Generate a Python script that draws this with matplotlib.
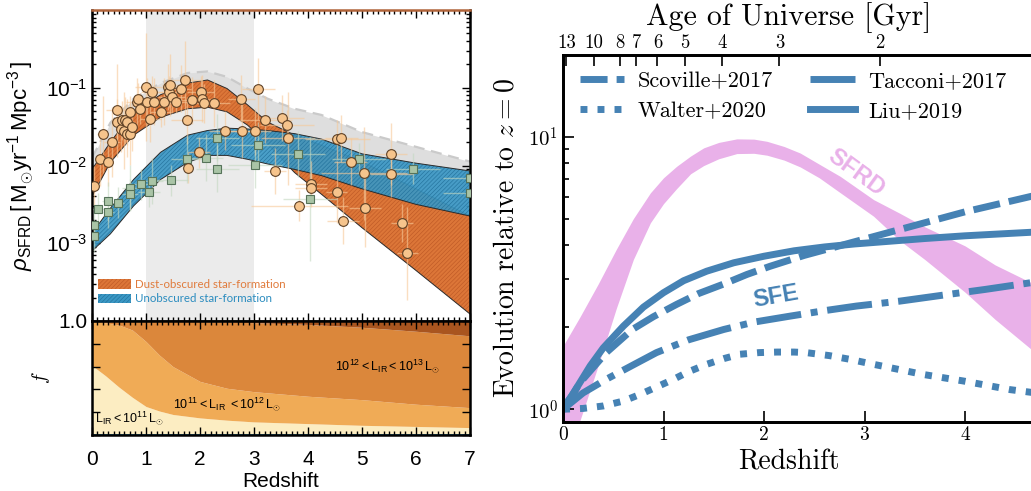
import numpy as np
import matplotlib
matplotlib.use("Agg")
import matplotlib.pyplot as plt
from matplotlib.patches import Patch
from matplotlib.ticker import LogLocator, MultipleLocator, NullFormatter

plt.rcParams['font.family'] = 'Liberation Sans'
plt.rcParams['mathtext.fontset'] = 'custom'
plt.rcParams['mathtext.rm'] = 'Liberation Sans'
plt.rcParams['mathtext.it'] = 'Liberation Sans:italic'
plt.rcParams['mathtext.bf'] = 'Liberation Sans:bold'
plt.rcParams['axes.formatter.use_mathtext'] = True
plt.rcParams['hatch.linewidth'] = 0.45

# ---------------- left panel: cosmic SFRD (log10 values) ----------------
band_z = [0, 0.34, 0.77, 1.27, 1.77, 2.14, 2.5, 2.88, 3.25, 3.75, 4.25, 5.0, 6.0, 7.0]
total_hi = [-1.90, -1.45, -1.14, -0.94, -0.81, -0.79, -0.86, -1.01, -1.14, -1.27, -1.35, -1.57, -1.76, -1.95]
total_lo = [-2.30, -1.90, -1.55, -1.32, -1.20, -1.18, -1.24, -1.40, -1.60, -1.80, -1.95, -2.10, -2.35, -2.60]
dust_hi = [-2.05, -1.70, -1.31, -1.09, -0.94, -0.90, -1.01, -1.22, -1.44, -1.61, -1.74, -1.95, -2.30, -2.65]
dust_lo = [-2.40, -1.96, -1.61, -1.38, -1.27, -1.25, -1.31, -1.48, -1.72, -2.09, -2.37, -2.80, -3.35, -3.91]
uv_hi = [-2.87, -2.55, -2.18, -1.83, -1.61, -1.55, -1.52, -1.53, -1.55, -1.59, -1.66, -1.85, -1.97, -2.07]
uv_lo = [-3.10, -2.88, -2.52, -2.18, -1.96, -1.87, -1.87, -1.92, -1.98, -2.05, -2.13, -2.30, -2.50, -2.65]

# dust-obscured measurements: redshift, log10 SFRD, error (dex), redshift error
ir_z = [0.04, 0.15, 0.20, 0.29, 0.37, 0.46, 0.47, 0.53, 0.55, 0.60, 0.61, 0.65, 0.65,
        0.71, 0.71, 0.74, 0.83, 0.86, 0.89, 1.00, 1.02, 1.08, 1.11, 1.15, 1.27, 1.33,
        1.40, 1.42, 1.45, 1.48, 1.55, 1.64, 1.73, 1.76, 1.77, 1.86, 1.98, 2.01, 2.04,
        2.07, 2.26, 2.46, 2.76, 2.77, 3.02, 3.08, 3.21, 3.39, 3.52, 3.61, 3.63, 3.84,
        4.05, 4.06, 4.53, 4.54, 4.62, 4.65, 4.79, 5.04, 5.05, 5.54, 5.54, 5.74, 5.84]
ir_lg = [-2.26, -1.92, -1.60, -1.96, -1.70, -1.29, -1.44, -1.53, -1.42, -1.55, -1.42, -1.44, -1.59,
         -1.31, -1.59, -1.51, -1.18, -1.14, -1.27, -0.99, -1.18, -1.40, -1.05, -1.18, -1.31, -1.18,
         -0.99, -1.05, -0.96, -1.12, -1.18, -1.01, -0.90, -1.42, -2.03, -1.16, -1.83, -1.05, -1.14,
         -1.20, -1.20, -1.55, -1.14, -1.55, -1.56, -1.02, -1.41, -2.07, -1.39, -1.48, -1.65, -2.52,
         -2.24, -2.29, -2.34, -1.66, -1.65, -2.71, -1.95, -2.10, -2.55, -1.85, -2.11, -2.74, -3.13]
ir_dy = [0.25, 0.35, 0.5, 0.3, 0.45, 0.6, 0.3, 0.3, 0.25, 0.5, 0.3, 0.3, 0.3,
         0.2, 0.4, 0.3, 0.3, 0.2, 0.2, 0.7, 0.3, 0.3, 0.2, 0.3, 0.2, 0.3,
         0.3, 0.2, 0.4, 0.2, 0.15, 0.3, 0.5, 0.3, 0.2, 0.3, 0.2, 0.2, 0.3,
         0.25, 0.3, 0.25, 0.3, 0.35, 0.3, 0.4, 0.3, 0.3, 0.3, 0.2, 0.6, 0.2,
         0.3, 0.2, 0.4, 0.25, 0.3, 0.3, 0.3, 0.6, 0.5, 0.4, 0.3, 0.25, 0.6]
ir_dx = [0.04, 0.1, 0.1, 0.1, 0.15, 0.2, 0.1, 0.1, 0.1, 0.1, 0.1, 0.15, 0.1,
         0.1, 0.1, 0.1, 0.2, 0.1, 0.1, 0.2, 0.3, 0.2, 0.2, 0.1, 0.2, 0.25,
         0.2, 0.2, 0.15, 0.25, 0.25, 0.2, 0.3, 0.3, 0.1, 0.3, 0.2, 0.25, 0.2,
         0.3, 0.3, 0.3, 0.25, 0.3, 0.3, 0.3, 0.5, 0.2, 0.4, 0.5, 0.5, 0.9,
         0.3, 0.3, 0.2, 0.6, 0.3, 0.3, 0.3, 0.8, 0.3, 0.3, 0.4, 0.2, 0.2]

# unobscured (UV) measurements
uv_pz = [0.04, 0.04, 0.12, 0.29, 0.30, 0.49, 0.70, 0.71, 0.91, 1.06, 1.11, 1.47,
         1.76, 2.12, 2.32, 2.32, 3.02, 3.07, 3.82, 4.03, 4.94, 5.95, 7.0, 7.0]
uv_plg = [-2.76, -2.91, -2.56, -2.46, -2.60, -2.48, -2.29, -2.37, -2.24, -2.34, -2.20, -2.19,
          -1.92, -1.90, -2.04, -1.64, -1.99, -1.74, -1.85, -2.43, -1.91, -2.04, -2.16, -2.35]
uv_pdy = [0.2, 0.2, 0.2, 0.25, 0.2, 0.2, 0.3, 0.2, 0.2, 0.2, 0.3, 0.2,
          0.3, 0.3, 0.3, 0.3, 0.3, 0.3, 0.3, 0.8, 0.2, 0.2, 0.2, 0.2]
uv_pdx = [0.05, 0.05, 0.1, 0.1, 0.1, 0.1, 0.15, 0.15, 0.15, 0.2, 0.2, 0.3,
          0.3, 0.3, 0.4, 0.4, 0.5, 0.5, 0.5, 0.5, 0.5, 0.5, 0.5, 0.5]

# fraction of obscured SFRD by IR luminosity class (cumulative)
frac_z = [0, 0.25, 0.5, 0.75, 1.0, 1.25, 1.5, 2.0, 2.5, 3.0, 4.0, 5.0, 6.0, 7.0]
frac_lirg = [0.61, 0.52, 0.42, 0.33, 0.25, 0.21, 0.18, 0.15, 0.13, 0.115, 0.10, 0.085, 0.075, 0.065]
frac_ulirg = [0.995, 0.985, 0.965, 0.92, 0.82, 0.70, 0.60, 0.47, 0.41, 0.38, 0.34, 0.31, 0.27, 0.24]
frac_hlirg = [1.0, 1.0, 1.0, 1.0, 1.0, 0.998, 0.997, 0.995, 0.99, 0.985, 0.97, 0.945, 0.91, 0.87]

# ---------------- right panel: evolution relative to z=0 (log10) ----------------
sfrd_z = [0, 0.17, 0.35, 0.53, 0.7, 0.87, 1.0, 1.13, 1.27, 1.4, 1.55, 1.73, 1.9, 2.03,
          2.2, 2.36, 2.55, 2.76, 3.09, 3.35, 3.6, 4.0, 4.3, 4.66, 5.0]
sfrd_hi = [0.232, 0.34, 0.46, 0.587, 0.70, 0.795, 0.85, 0.892, 0.93, 0.96, 0.98, 0.993, 0.992, 0.984,
           0.965, 0.941, 0.90, 0.855, 0.77, 0.72, 0.67, 0.60, 0.53, 0.465, 0.40]
sfrd_lo = [-0.15, -0.04, 0.16, 0.37, 0.55, 0.685, 0.755, 0.81, 0.865, 0.895, 0.92, 0.939, 0.94, 0.933,
           0.915, 0.89, 0.85, 0.795, 0.709, 0.62, 0.55, 0.43, 0.33, 0.22, 0.12]

liu_z = [0, 0.05, 0.1, 0.15, 0.2, 0.27, 0.4, 0.6, 0.8, 1.0, 1.2, 1.43, 1.7, 2.0, 2.3, 2.6, 2.9,
         3.25, 3.6, 4.0, 4.66, 5.0]
liu_lg = [0, 0.03, 0.055, 0.087, 0.117, 0.159, 0.225, 0.305, 0.375, 0.428, 0.472, 0.507, 0.538,
          0.562, 0.582, 0.596, 0.607, 0.617, 0.627, 0.637, 0.65, 0.656]
scov_z = [0, 0.17, 0.43, 0.69, 0.9, 1.13, 1.35, 1.6, 1.83, 2.06, 2.4, 2.75, 3.1, 3.5, 4.0,
          4.66, 5.0]
scov_lg = [0, 0.098, 0.208, 0.293, 0.34, 0.385, 0.425, 0.46, 0.495, 0.525, 0.565, 0.60, 0.635,
           0.675, 0.725, 0.782, 0.81]
tacc_z = [0, 0.1, 0.2, 0.43, 0.7, 0.93, 1.25, 1.6, 1.9, 2.26, 2.6, 2.92, 3.35, 3.8, 4.2, 4.66, 5.0]
tacc_lg = [0, 0.03, 0.06, 0.11, 0.163, 0.208, 0.255, 0.293, 0.32, 0.342, 0.362, 0.379, 0.397,
           0.42, 0.44, 0.465, 0.48]
walt_z = [0, 0.2, 0.4, 0.6, 0.77, 0.95, 1.1, 1.25, 1.43, 1.6, 1.76, 1.95, 2.13, 2.3, 2.42, 2.65,
          2.86, 3.05, 3.25, 3.58, 3.98, 4.45, 4.66, 5.0]
walt_lg = [0, 0.003, 0.012, 0.03, 0.055, 0.085, 0.11, 0.138, 0.165, 0.186, 0.202, 0.208, 0.21,
           0.21, 0.208, 0.197, 0.183, 0.168, 0.153, 0.128, 0.104, 0.072, 0.062, 0.045]

age_ticks = [13, 10, 8, 7, 6, 5, 4, 3, 2]

W, H = 1031, 491
fig = plt.figure(figsize=(W / 100, H / 100), dpi=100)
ax1 = fig.add_axes([92 / W, 1 - 321 / H, 378 / W, 311 / H])
ax2 = fig.add_axes([92 / W, 1 - 435 / H, 378 / W, 114 / H])
ax3 = fig.add_axes([563 / W, 1 - 421.7 / H, 502.5 / W, 366.7 / H])

# --- upper left: SFRD bands and data ---
bz = np.array(band_z)
ax1.axvspan(1, 3, color='#ebebeb', lw=0, zorder=0)
ax1.fill_between(bz, 10 ** np.array(total_lo), 10 ** np.array(total_hi), color='#dedede', lw=0, zorder=1)
ax1.plot(bz, 10 ** np.array(total_hi), color='#cacaca', lw=1.6, ls=(0, (5, 3)), zorder=1.2)


def hatched_band(ax, lo, hi, face, hcol, zo, alpha=1.0):
    lo, hi = 10 ** np.array(lo), 10 ** np.array(hi)
    ax.fill_between(bz, lo, hi, facecolor=face, lw=0, zorder=zo, alpha=alpha)
    ax.fill_between(bz, lo, hi, facecolor='none', edgecolor=hcol, hatch='////////', lw=0, zorder=zo)
    ax.plot(bz, lo, color='#2b2b2b', lw=0.7, zorder=zo)
    ax.plot(bz, hi, color='#2b2b2b', lw=0.7, zorder=zo)


hatched_band(ax1, dust_lo, dust_hi, '#dc7638', '#bf5a26', 2)
hatched_band(ax1, uv_lo, uv_hi, '#3a97c4', '#24739d', 2.5, alpha=0.92)

lg = np.array(ir_lg); dy = np.array(ir_dy)
ax1.errorbar(ir_z, 10 ** lg, yerr=[10 ** lg - 10 ** (lg - dy), 10 ** (lg + dy) - 10 ** lg],
             xerr=ir_dx, fmt='none', ecolor='#f7c998', elinewidth=1.0, alpha=0.6, zorder=3)
lg = np.array(uv_plg); dy = np.array(uv_pdy)
ax1.errorbar(uv_pz, 10 ** lg, yerr=[10 ** lg - 10 ** (lg - dy), 10 ** (lg + dy) - 10 ** lg],
             xerr=uv_pdx, fmt='none', ecolor='#c3d8c1', elinewidth=1.0, alpha=0.6, zorder=3)
ax1.plot(uv_pz, 10 ** np.array(uv_plg), 's', ms=6, mfc='#a9c4a6', mec='#56735a', mew=0.8, zorder=4)
ax1.plot(ir_z, 10 ** np.array(ir_lg), 'o', ms=7, mfc='#f6c48c', mec='#5e4126', mew=0.8, zorder=4.5)

ax1.set_xlim(0, 7)
ax1.set_yscale('log')
ax1.set_ylim(1e-4, 1)
ax1.set_yticks([1e-3, 1e-2, 1e-1],
               [r'$\mathdefault{10^{-3}}$', r'$\mathdefault{10^{-2}}$', r'$\mathdefault{10^{-1}}$'],
               fontsize=15)
ax1.yaxis.set_minor_locator(LogLocator(base=10, subs=np.arange(2, 10), numticks=20))
ax1.yaxis.set_minor_formatter(NullFormatter())
ax1.xaxis.set_major_locator(MultipleLocator(1))
ax1.xaxis.set_minor_locator(MultipleLocator(0.1))
ax1.tick_params(which='both', direction='in', top=True, right=True, labelbottom=False, width=1)
ax1.tick_params(which='major', length=6)
ax1.tick_params(which='minor', length=3)
for s in ax1.spines.values():
    s.set_linewidth(1.8)
ax1.spines['top'].set_color('#b0643a')
ax1.set_ylabel(r'$\rho_{\rm SFRD}\,[\,{\rm M_{\odot}yr^{-1}\,Mpc^{-3}}\,]$', fontsize=16, labelpad=6)

leg_handles = [Patch(facecolor='#dc7638', edgecolor='#bf5a26', hatch='////////', lw=0),
               Patch(facecolor='#3a97c4', edgecolor='#24739d', hatch='////////', lw=0)]
ax1.legend(leg_handles, ['Dust-obscured star-formation', 'Unobscured star-formation'],
           loc='upper left', bbox_to_anchor=(0.015, 0.135), frameon=False,
           prop={'family': 'Lato', 'size': 8.3}, labelcolor=['#e07b3c', '#2b8cbf'],
           handlelength=2.9, handleheight=0.9, handletextpad=0.3, labelspacing=0.3,
           borderpad=0, borderaxespad=0)

# --- lower left: fractions by luminosity class ---
fz = np.array(frac_z)
ax2.fill_between(fz, 0, frac_lirg, color='#fcedc2', lw=0)
ax2.fill_between(fz, frac_lirg, frac_ulirg, color='#f0ab56', lw=0)
ax2.fill_between(fz, frac_ulirg, frac_hlirg, color='#db873b', lw=0)
ax2.fill_between(fz, frac_hlirg, 1.0, color='#a9551f', lw=0)
ax2.axhspan(0, 0.012, color='#2f8fb8', lw=0)
ax2.set_xlim(0, 7)
ax2.set_ylim(0, 1.0)
ax2.set_yticks(np.arange(0, 1.01, 0.2), ['', '', '', '', '', '1.0'], fontsize=15)
ax2.set_xticks(range(8), [str(i) for i in range(8)], fontsize=15)
ax2.xaxis.set_minor_locator(MultipleLocator(0.1))
ax2.tick_params(which='both', direction='in', top=True, right=True, width=1)
ax2.tick_params(which='major', length=6)
ax2.tick_params(which='minor', length=3)
ax2.tick_params(axis='x', pad=11)
for s in ax2.spines.values():
    s.set_linewidth(1.8)
ax2.set_xlabel('Redshift', fontsize=15, labelpad=2)
ax2.set_ylabel('$f$', fontsize=14, math_fontfamily='cm', labelpad=4)
ax2.text(0.05, 0.11, r'$\mathrm{L_{IR}} < 10^{11}\,\mathrm{L_{\odot}}$', fontsize=9)
ax2.text(1.5, 0.23, r'$10^{11} < \mathrm{L_{IR}}\ < 10^{12}\,\mathrm{L_{\odot}}$', fontsize=9)
ax2.text(4.5, 0.57, r'$10^{12} < \mathrm{L_{IR}} < 10^{13}\,\mathrm{L_{\odot}}$', fontsize=9)

# --- right panel ---
blue = '#4682b4'
pink = '#e9b1e9'
ax3.fill_between(sfrd_z, 10 ** np.array(sfrd_lo), 10 ** np.array(sfrd_hi), color=pink, lw=0)
l_scov, = ax3.plot(scov_z, 10 ** np.array(scov_lg), color=blue, lw=5, dashes=[3.9, 1.3])
l_walt, = ax3.plot(walt_z, 10 ** np.array(walt_lg), color=blue, lw=5, dashes=[1.0, 1.45])
l_tacc, = ax3.plot(tacc_z, 10 ** np.array(tacc_lg), color=blue, lw=5, dashes=[6.5, 1.4, 1.0, 1.4])
l_liu, = ax3.plot(liu_z, 10 ** np.array(liu_lg), color=blue, lw=5)

ax3.text(2.92, 7.4, 'SFRD', color=pink, fontsize=17, fontweight='bold', rotation=-36,
         ha='center', va='center')
ax3.text(2.12, 2.6, 'SFE', color=blue, fontsize=17, fontweight='bold', rotation=10,
         ha='center', va='center')

ax3.set_xlim(0, 5)
ax3.set_yscale('log')
ax3.set_ylim(0.9, 20)
ax3.set_xticks(range(5), [str(i) for i in range(5)], fontsize=14, fontfamily='cmr10')
ax3.set_yticks([1, 10], [r'$10^{0}$', r'$10^{1}$'], fontsize=15, math_fontfamily='cm')
ax3.yaxis.set_minor_locator(LogLocator(base=10, subs=np.arange(2, 10), numticks=20))
ax3.yaxis.set_minor_formatter(NullFormatter())
ax3.tick_params(which='both', direction='in', width=1.2)
ax3.tick_params(which='major', length=8)
ax3.tick_params(which='minor', length=4)
for s in ax3.spines.values():
    s.set_linewidth(2)
ax3.set_xlabel('Redshift', fontsize=20, fontfamily='cmr10')
ax3.xaxis.set_label_coords(0.45, -0.075)
ax3.set_ylabel('Evolution relative to $z=0$', fontsize=20, fontfamily='cmr10',
               math_fontfamily='cm', labelpad=6)

ax3.legend([l_scov, l_walt, l_tacc, l_liu],
           ['Scoville+2017', 'Walter+2020', 'Tacconi+2017', 'Liu+2019'],
           ncol=2, loc='upper left', frameon=False, prop={'family': 'cmr10', 'size': 16},
           handlelength=2.0, handletextpad=0.6, columnspacing=1.7, labelspacing=0.45,
           borderaxespad=0.35)

# age of the universe along the top (flat LCDM, H0=70, Om=0.3)
H0_gyr = 977.8 / 70.0
om, ol = 0.3, 0.7
ages = np.array(age_ticks, dtype=float)
x = np.sinh(ages * 1.5 * np.sqrt(ol) / H0_gyr) / np.sqrt(ol / om)
age_z = x ** (-2.0 / 3.0) - 1.0
ax4 = ax3.twiny()
ax4.set_xlim(0, 5)
ax4.set_xticks(age_z, [str(a) for a in age_ticks], fontsize=13.5, fontfamily='cmr10')
ax4.tick_params(direction='in', length=8, width=1.2, pad=2)
ax4.set_xlabel('Age of Universe [Gyr]', fontsize=21.5, fontfamily='cmr10')
ax4.xaxis.set_label_coords(0.45, 1.083)
for s in ax4.spines.values():
    s.set_linewidth(2)

fig.savefig('out.png', dpi=100)
